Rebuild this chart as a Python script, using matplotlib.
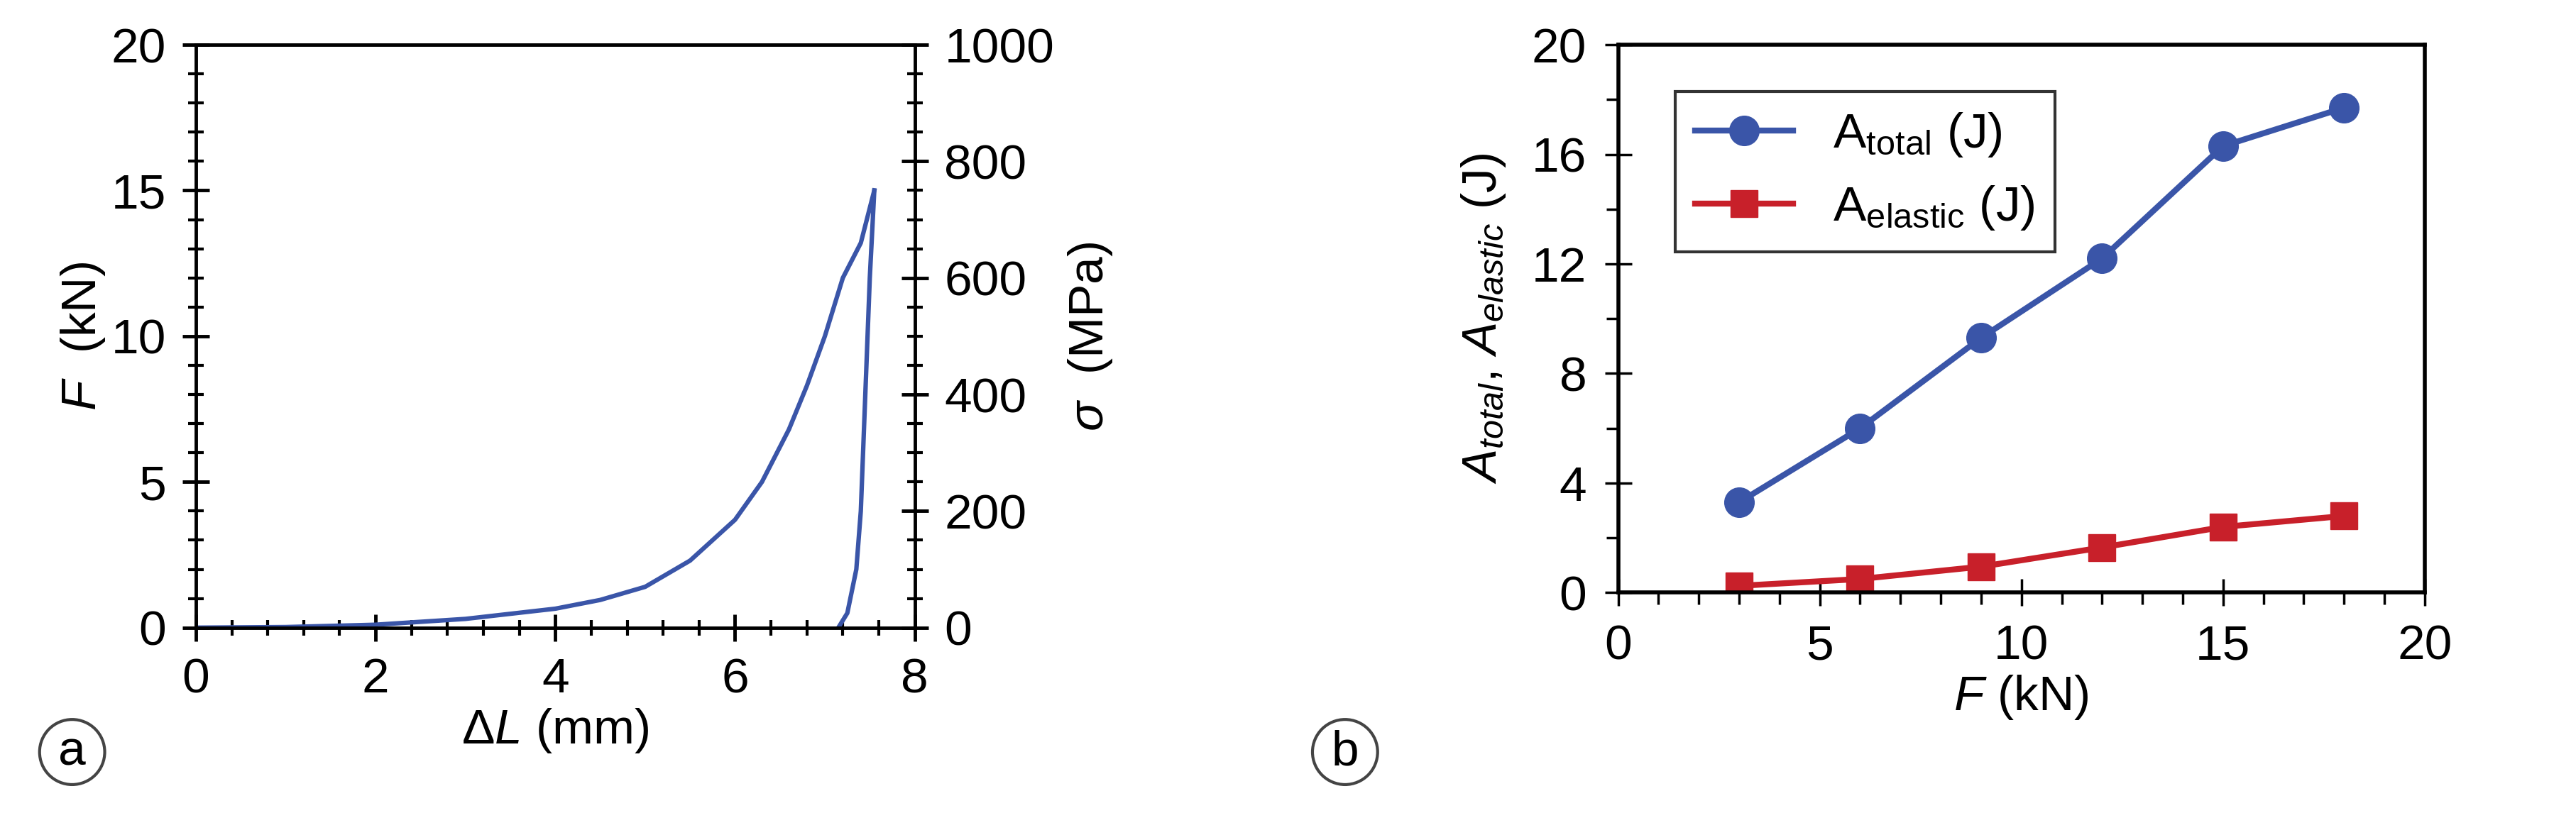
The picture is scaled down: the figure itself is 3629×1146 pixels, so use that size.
import numpy as np
import matplotlib.pyplot as plt
from matplotlib.ticker import MultipleLocator

plt.rcParams['font.family'] = ['Liberation Sans', 'DejaVu Sans']
plt.rcParams['mathtext.fontset'] = 'custom'
plt.rcParams['mathtext.rm'] = 'Liberation Sans'
plt.rcParams['mathtext.it'] = 'Liberation Sans:italic'

# panel a: load-unload curve
dl_load = [0, 1, 2, 3, 4, 4.5, 5, 5.5, 6, 6.3, 6.6, 6.8, 7.0, 7.2, 7.4, 7.55]
f_load = [0, 0.02, 0.1, 0.3, 0.65, 0.95, 1.4, 2.3, 3.7, 5.0, 6.8, 8.3, 10.0, 12.0, 13.2, 15.0]
dl_unload = [7.55, 7.5, 7.45, 7.4, 7.35, 7.25, 7.15]
f_unload = [15.0, 12.0, 8.0, 4.0, 2.0, 0.5, 0.0]

# panel b
force = [3, 6, 9, 12, 15, 18]
a_total = [3.3, 6.0, 9.3, 12.2, 16.3, 17.7]
a_elastic = [0.25, 0.5, 0.95, 1.65, 2.4, 2.8]

blue = '#3a55a8'
red = '#c8202a'
fs = 50

fig = plt.figure(figsize=(36.3, 11.46), dpi=100)

ax = fig.add_axes([0.076, 0.228, 0.279, 0.717])
ax.plot(dl_load, f_load, color=blue, lw=4.5)
ax.plot(dl_unload, f_unload, color=blue, lw=4.5)
ax.set_xlim(0, 8)
ax.set_ylim(0, 20)
ax.xaxis.set_major_locator(MultipleLocator(2))
ax.xaxis.set_minor_locator(MultipleLocator(0.4))
ax.yaxis.set_major_locator(MultipleLocator(5))
ax.yaxis.set_minor_locator(MultipleLocator(1))
ax.tick_params(which='major', direction='inout', length=28, width=3.5, labelsize=fs, pad=16)
ax.tick_params(which='minor', direction='inout', length=16, width=3)
for s in ax.spines.values():
    s.set_linewidth(3.5)
ax.set_xlabel(r'$\mathit{ΔL}$ (mm)', fontsize=fs)
ax.set_ylabel(r'$\mathit{F}$  (kN)', fontsize=fs)
ax2 = ax.twinx()
ax2.set_ylim(0, 1000)
ax2.yaxis.set_major_locator(MultipleLocator(200))
ax2.yaxis.set_minor_locator(MultipleLocator(50))
ax2.tick_params(which='major', direction='inout', length=28, width=3.5, labelsize=fs, pad=16)
ax2.tick_params(which='minor', direction='inout', length=16, width=3)
ax2.set_ylabel(r'$\mathit{σ}$  (MPa)', fontsize=fs, labelpad=12)

bx = fig.add_axes([0.628, 0.271, 0.313, 0.674])
bx.plot(force, a_total, color=blue, lw=6, marker='o', ms=30, label=r'A$_{\mathrm{total}}$ (J)')
bx.plot(force, a_elastic, color=red, lw=6, marker='s', ms=27, label=r'A$_{\mathrm{elastic}}$ (J)')
bx.set_xlim(0, 20)
bx.set_ylim(0, 20)
bx.xaxis.set_major_locator(MultipleLocator(5))
bx.xaxis.set_minor_locator(MultipleLocator(1))
bx.yaxis.set_major_locator(MultipleLocator(4))
bx.yaxis.set_minor_locator(MultipleLocator(2))
bx.tick_params(which='major', direction='inout', length=28, width=2.5, labelsize=fs, pad=18)
bx.tick_params(which='minor', direction='out', length=12, width=2.5)
for s in bx.spines.values():
    s.set_linewidth(4)
bx.set_xlabel(r'$\mathit{F}$ (kN)', fontsize=fs)
bx.set_ylabel(r'$\mathit{A_{total}}$, $\mathit{A_{elastic}}$ (J)', fontsize=fs, labelpad=24)
leg = bx.legend(loc='upper left', fontsize=fs, frameon=True, fancybox=False,
                edgecolor='black', handlelength=2.0, bbox_to_anchor=(0.04, 0.96))
leg.get_frame().set_linewidth(3)

fig.text(0.028, 0.075, 'a', fontsize=fs, ha='center', va='center',
         bbox=dict(boxstyle='circle,pad=0.2', fc='white', ec='#444444', lw=3))
fig.text(0.522, 0.075, 'b', fontsize=fs, ha='center', va='center',
         bbox=dict(boxstyle='circle,pad=0.2', fc='white', ec='#444444', lw=3))

fig.savefig('out.png', dpi=100)
